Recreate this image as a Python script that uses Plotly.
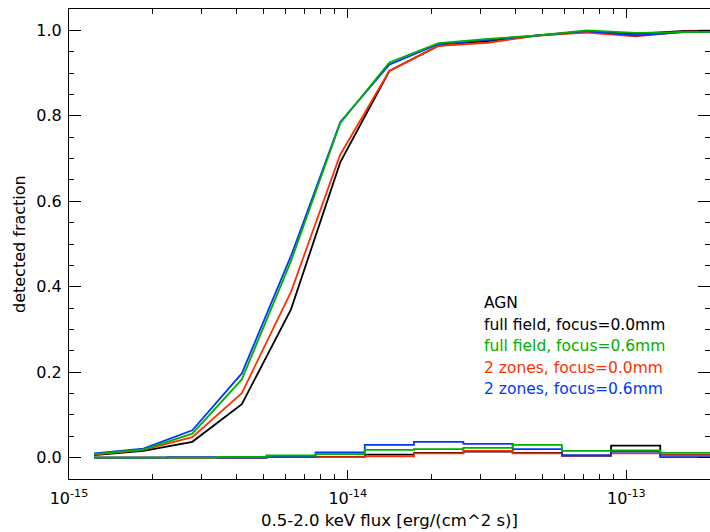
import plotly.graph_objects as go

# flux bin centres [erg/(cm^2 s)]
flux = [1.23e-15, 1.85e-15, 2.77e-15, 4.17e-15, 6.26e-15, 9.40e-15, 1.41e-14,
        2.12e-14, 3.19e-14, 4.79e-14, 7.19e-14, 1.08e-13, 1.62e-13, 2.44e-13]

# detected fraction
frac_full_00 = [0.006, 0.016, 0.037, 0.125, 0.347, 0.691, 0.905, 0.964, 0.975, 0.988, 0.997, 0.992, 0.999, 1.000]
frac_full_06 = [0.008, 0.019, 0.056, 0.183, 0.460, 0.783, 0.925, 0.970, 0.980, 0.988, 1.000, 0.994, 0.996, 0.997]
frac_zone_00 = [0.007, 0.018, 0.048, 0.151, 0.388, 0.709, 0.905, 0.964, 0.971, 0.988, 0.995, 0.986, 0.997, 0.998]
frac_zone_06 = [0.010, 0.021, 0.064, 0.197, 0.472, 0.785, 0.920, 0.968, 0.978, 0.988, 0.998, 0.988, 0.996, 0.997]

# spurious fraction (histograms at the bottom)
spur_full_00 = [0.0, 0.0, 0.0, 0.0, 0.002, 0.002, 0.007, 0.011, 0.014, 0.011, 0.005, 0.028, 0.006, 0.006]
spur_full_06 = [0.0, 0.0, 0.0, 0.002, 0.005, 0.008, 0.018, 0.020, 0.023, 0.030, 0.016, 0.017, 0.011, 0.011]
spur_zone_00 = [0.0, 0.0, 0.0, 0.0, 0.001, 0.001, 0.003, 0.010, 0.016, 0.010, 0.004, 0.010, 0.005, 0.005]
spur_zone_06 = [0.0, 0.0, 0.001, 0.0, 0.002, 0.012, 0.030, 0.037, 0.032, 0.020, 0.005, 0.014, 0.001, 0.001]

labels = ["full field, focus=0.0mm", "full field, focus=0.6mm",
          "2 zones, focus=0.0mm", "2 zones, focus=0.6mm"]
colores = ["#000000", "#00b000", "#ff3000", "#0038ff"]

x_major = [1e-15, 1e-14, 1e-13]
x_major_txt = ["10<sup>-15</sup>", "10<sup>-14</sup>", "10<sup>-13</sup>"]
x_minor = [m * d for d in [1e-15, 1e-14, 1e-13] for m in range(2, 10)]

fuente = "DejaVu Sans"

fig = go.Figure()

fracs = [frac_full_00, frac_full_06, frac_zone_00, frac_zone_06]
spurs = [spur_full_00, spur_full_06, spur_zone_00, spur_zone_06]
orden = [0, 2, 3, 1]  # black, red, blue, green on top

for i in orden:
    fig.add_trace(go.Scatter(x=flux, y=spurs[i], mode="lines", line_shape="hvh",
                             line=dict(color=colores[i], width=1.8), showlegend=False))
for i in orden:
    fig.add_trace(go.Scatter(x=flux, y=fracs[i], mode="lines",
                             line=dict(color=colores[i], width=1.8), showlegend=False))

# legend as text, like the original
fig.add_annotation(x=0.644, y=0.374, xref="paper", yref="paper", text="AGN",
                   showarrow=False, xanchor="left", yanchor="middle",
                   font=dict(family=fuente, size=15.5, color="#000000"))
for i, lab in enumerate(labels):
    fig.add_annotation(x=0.644, y=0.374 - 0.0458 * (i + 1), xref="paper", yref="paper",
                       text=lab, showarrow=False, xanchor="left", yanchor="middle",
                       font=dict(family=fuente, size=15.5, color=colores[i]))

# axis titles
fig.add_annotation(x=0.5, y=-0.088, xref="paper", yref="paper",
                   text="0.5-2.0 keV flux [erg/(cm^2 s)]", showarrow=False,
                   xanchor="center", yanchor="middle",
                   font=dict(family=fuente, size=16.5, color="#000000"))
fig.add_annotation(x=-0.078, y=0.5, xref="paper", yref="paper",
                   text="detected fraction", showarrow=False, textangle=-90,
                   xanchor="center", yanchor="middle",
                   font=dict(family=fuente, size=16, color="#000000"))

fig.update_xaxes(type="log", range=[-15, -12.7], showgrid=False, zeroline=False,
                 showline=True, linecolor="#000000", linewidth=1, mirror="ticks",
                 ticks="inside", ticklen=9, tickcolor="#000000",
                 tickvals=x_major, ticktext=x_major_txt, ticklabelstandoff=5,
                 tickfont=dict(family=fuente, size=16, color="#000000"),
                 minor=dict(tickvals=x_minor, ticks="inside", ticklen=5, tickcolor="#000000"))
fig.update_yaxes(range=[-0.05, 1.05], showgrid=False, zeroline=False,
                 showline=True, linecolor="#000000", linewidth=1, mirror="ticks",
                 ticks="inside", ticklen=12, tickcolor="#000000",
                 tickvals=[0, 0.2, 0.4, 0.6, 0.8, 1.0], tickformat=".1f",
                 ticklabelstandoff=3,
                 tickfont=dict(family=fuente, size=16, color="#000000"),
                 minor=dict(dtick=0.05, ticks="inside", ticklen=5, tickcolor="#000000"))

fig.update_layout(width=710, height=532,
                  margin=dict(l=69, r=0, t=9, b=53, autoexpand=False),
                  plot_bgcolor="white", paper_bgcolor="white", showlegend=False)

# la pagina trae margen de 8px en el body, se quita
fig.write_html("out.html", config={"displayModeBar": False},
               post_script="document.body.style.margin='0';")
